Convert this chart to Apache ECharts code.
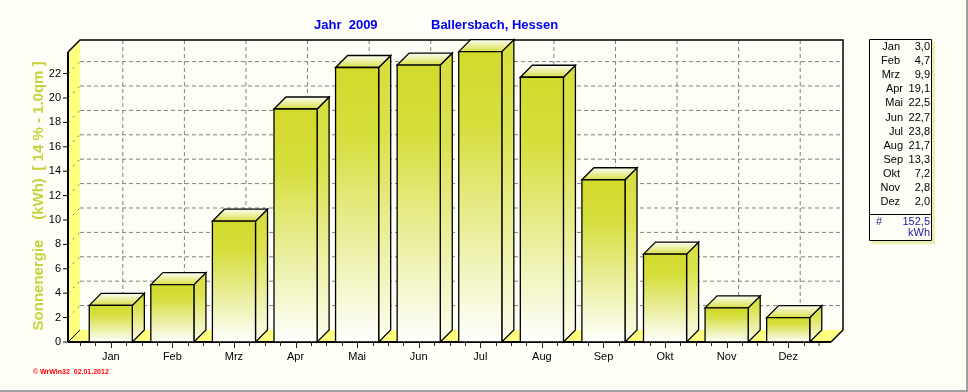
<!DOCTYPE html>
<html><head><meta charset="utf-8">
<script src="https://cdn.jsdelivr.net/npm/echarts@6/dist/echarts.min.js"></script>
<style>html,body{margin:0;padding:0;background:#fefef6}#c{width:968px;height:392px}</style>
</head><body><div id="c"></div>
<script>
const categories = ['Jan','Feb','Mrz','Apr','Mai','Jun','Jul','Aug','Sep','Okt','Nov','Dez'];
const values = [3.0,4.7,9.9,19.1,22.5,22.7,23.8,21.7,13.3,7.2,2.8,2.0];
const totalKWh = 152.5;
const yTicks = [0,2,4,6,8,10,12,14,16,18,20,22];
const titleYear = 'Jahr  2009';
const titlePlace = 'Ballersbach, Hessen';
const yName = ['Sonnenergie', '(kWh)', '[ 14 % - 1.0qm ]'];
const footer = '\u00a9 WrWin32  02.01.2012';

const FONT = '"Liberation Sans", Arial, sans-serif';
const D = 12;
const BG = '#fefef6';
const WALL = '#ffff80';
const chart = echarts.init(document.getElementById('c'));
const fmt = v => v.toFixed(1).replace('.', ',');

function frame(params, api) {
  const r = params.coordSys;
  const x0 = r.x - D, x1 = r.x + r.width + D, yT = r.y, yB = r.y + r.height;
  const ch = [];
  const dash = {stroke:'#808080', lineWidth:1, lineDash:[4,3]};
  ch.push({type:'rect', shape:{x:x0+D, y:yT-D, width:x1-x0, height:yB-yT}, style:{fill:BG}});
  yTicks.forEach(v => {
    if (v === 0) return;
    const y = api.coord([0, v])[1];
    ch.push({type:'line', shape:{x1:x0+D, y1:y-D, x2:x1+D, y2:y-D}, style:dash});
  });
  categories.forEach((c, i) => {
    const x = api.coord([i, 0])[0] + D;
    ch.push({type:'line', shape:{x1:x, y1:yT-D, x2:x, y2:yB-D}, style:dash});
  });
  ch.push({type:'polygon', shape:{points:[[x0,yT],[x0+D,yT-D],[x0+D,yB-D],[x0,yB]]}, style:{fill:WALL}});
  yTicks.forEach(v => {
    if (v === 0) return;
    const y = api.coord([0, v])[1];
    ch.push({type:'line', shape:{x1:x0, y1:y, x2:x0+D, y2:y-D}, style:{stroke:'#707070', lineWidth:1, lineDash:[2,5]}});
  });
  ch.push({type:'polygon', shape:{points:[[x0,yB],[x1,yB],[x1+D,yB-D],[x0+D,yB-D]]}, style:{fill:WALL}});
  ch.push({type:'line', shape:{x1:x0, y1:yB, x2:x0+D, y2:yB-D}, style:{stroke:'#000', lineWidth:1}});
  ch.push({type:'polyline', shape:{points:[[x0,yT],[x0+D,yT-D],[x1+D,yT-D],[x1+D,yB-D],[x1,yB]]}, style:{stroke:'#000', lineWidth:1.5, fill:null}});
  ch.push({type:'line', shape:{x1:x0, y1:yB, x2:x1, y2:yB}, style:{stroke:'#000', lineWidth:2}});
  ch.push({type:'line', shape:{x1:x0, y1:yT, x2:x0, y2:yB}, style:{stroke:'#000', lineWidth:2}});
  yTicks.forEach(v => {
    const y = api.coord([0, v])[1];
    ch.push({type:'line', shape:{x1:x0-5, y1:y, x2:x0, y2:y}, style:{stroke:'#000', lineWidth:1}});
  });
  const cw = r.width / categories.length;
  for (let i = 0; i < categories.length; i++) {
    for (let k = 0; k < 4; k++) {
      const x = Math.round(r.x + i*cw + k*cw/4) + 0.5;
      const len = k === 2 ? 5 : 3;
      ch.push({type:'line', shape:{x1:x, y1:yB+1, x2:x, y2:yB+1+len}, style:{stroke:'#202020', lineWidth:1}});
    }
  }
  ch.push({type:'line', shape:{x1:r.x+r.width, y1:yB+1, x2:r.x+r.width, y2:yB+4}, style:{stroke:'#202020', lineWidth:1}});
  return {type:'group', children:ch};
}

function bar(params, api) {
  const idx = api.value(0), v = api.value(1);
  const p = api.coord([idx, v]), p0 = api.coord([idx, 0]);
  const w = api.size([1, 0])[0] * 0.7;
  const l = p[0] - w/2, rr = p[0] + w/2, yt = p[1], yb = p0[1];
  const frontG = new echarts.graphic.LinearGradient(0,0,0,1,[{offset:0,color:'#d2da2c'},{offset:0.25,color:'#d6de3c'},{offset:1,color:'#ffffff'}]);
  const sideG = new echarts.graphic.LinearGradient(0,0,0,1,[{offset:0,color:'#d6de3c'},{offset:0.3,color:'#dce250'},{offset:1,color:'#fdfdf0'}]);
  const topG = new echarts.graphic.LinearGradient(0,1,0,0,[{offset:0,color:'#d6de3c'},{offset:1,color:'#ffffff'}]);
  const st = {stroke:'#000', lineWidth:1.3, lineJoin:'miter'};
  return {type:'group', children:[
    {type:'polygon', shape:{points:[[rr,yt],[rr+D,yt-D],[rr+D,yb-D],[rr,yb]]}, style:Object.assign({fill:sideG}, st)},
    {type:'polygon', shape:{points:[[l,yt],[l+D,yt-D],[rr+D,yt-D],[rr,yt]]}, style:Object.assign({fill:topG}, st)},
    {type:'rect', shape:{x:l, y:yt, width:w, height:yb-yt}, style:Object.assign({fill:frontG}, st)}
  ]};
}

const graphics = [];
graphics.push({type:'text', left:314, top:19, style:{text:titleYear, font:'bold 13px ' + FONT, fill:'#0000ee'}});
graphics.push({type:'text', left:431, top:19, style:{text:titlePlace, font:'bold 13px ' + FONT, fill:'#0000ee'}});
const yNameY = [285, 199, 116];
yName.forEach((t, i) => graphics.push({type:'text', x:39, y:yNameY[i], rotation:Math.PI/2,
  style:{text:t, font:'bold 15px ' + FONT, fill:'#c8d23c', align:'center', verticalAlign:'middle'}}));
graphics.push({type:'text', x:33, y:372, style:{text:footer, font:'bold 7px ' + FONT, fill:'#ff0000', verticalAlign:'middle'}});
// legend box
graphics.push({type:'rect', shape:{x:872, y:42, width:63, height:202}, style:{fill:'#eeeeb0'}});
graphics.push({type:'rect', shape:{x:869.5, y:39.5, width:62, height:201}, style:{fill:BG, stroke:'#000', lineWidth:1}});
graphics.push({type:'line', shape:{x1:869.5, y1:214.5, x2:931.5, y2:214.5}, style:{stroke:'#000', lineWidth:1}});
categories.forEach((c, i) => {
  const y = 47 + 14.1 * i;
  graphics.push({type:'text', x: values[i] < 10 ? 900 : 903, y:y, style:{text:c, font:'11px ' + FONT, fill:'#000', align:'right', verticalAlign:'middle'}});
  graphics.push({type:'text', x:930, y:y, style:{text:fmt(values[i]), font:'11px ' + FONT, fill:'#000', align:'right', verticalAlign:'middle'}});
});
graphics.push({type:'text', x:876, y:222, style:{text:'#', font:'11px ' + FONT, fill:'#1a1aa0', verticalAlign:'middle'}});
graphics.push({type:'text', x:930, y:222, style:{text:fmt(totalKWh), font:'11px ' + FONT, fill:'#1a1aa0', align:'right', verticalAlign:'middle'}});
graphics.push({type:'text', x:930, y:233, style:{text:'kWh', font:'11px ' + FONT, fill:'#1a1aa0', align:'right', verticalAlign:'middle'}});
graphics.push({type:'rect', shape:{x:966, y:0, width:2, height:392}, style:{fill:'#a0a0a0'}});
graphics.push({type:'rect', shape:{x:0, y:390, width:968, height:2}, style:{fill:'#a0a0a0'}});

chart.setOption({
  backgroundColor: BG,
  animation: false,
  grid: {left:80, right:149, top:52, bottom:50},
  xAxis: {type:'category', data:categories, axisLine:{show:false}, axisTick:{show:false},
    axisLabel:{color:'#000', fontSize:11, fontFamily:FONT, margin:9}, splitLine:{show:false}},
  yAxis: {type:'value', min:0, max:23.77, interval:2, offset:12,
    axisLine:{show:false}, axisTick:{show:false}, splitLine:{show:false},
    axisLabel:{color:'#000', fontSize:11, fontFamily:FONT, margin:7,
      formatter: v => (Math.abs(v - Math.round(v)) < 1e-6 && Math.round(v) % 2 === 0) ? String(v) : ''}},
  series: [
    {type:'custom', renderItem:frame, data:[[0,0]], silent:true, z:1},
    {type:'custom', renderItem:bar, data:values.map((v,i)=>[i,v]), silent:true, z:2}
  ],
  graphic: graphics
});
</script></body></html>
